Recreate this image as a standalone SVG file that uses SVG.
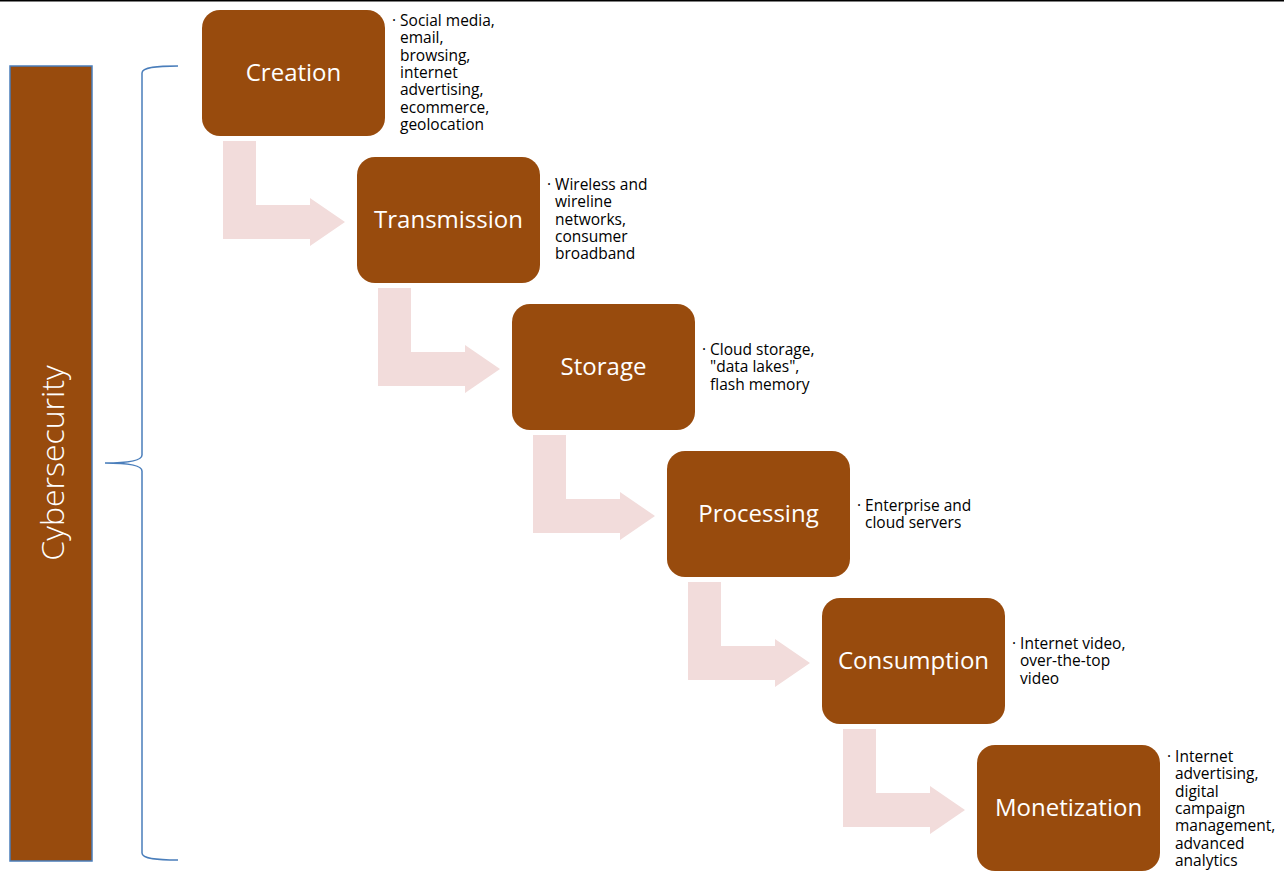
<svg xmlns="http://www.w3.org/2000/svg" width="1284" height="872" viewBox="0 0 1284 872">
<defs>
<style>
.box{fill:#984B0D}
.lbl{font-family:"Open Sans","Liberation Sans",sans-serif;font-size:24px;fill:#fff;text-anchor:middle;dominant-baseline:central}
.note{font-family:"Open Sans","Liberation Sans",sans-serif;font-size:15.5px;fill:#000}
.arr{fill:#F2DCDB}
</style>
<polygon id="bend" class="arr" points="0,0 33,0 33,64 87,64 87,57 122,81 87,105 87,98 0,98"/>
</defs>
<rect x="0" y="0" width="1284" height="872" fill="#fff"/>
<line x1="0" y1="0.5" x2="1284" y2="0.5" stroke="#000" stroke-width="2"/>
<g id="cybersecurity">
<rect x="10" y="66" width="82" height="795" fill="#984B0D" stroke="#4A7EBB" stroke-width="1.5"/>
<text transform="translate(51,463) rotate(-90)" class="lbl" style="font-size:32px;font-weight:300">Cybersecurity</text>
</g>
<g id="brace">
<path d="M178,66 C158,66 142,67 142,73 L142,455 C142,460 130,463 105,463 C130,463 142,466 142,471 L142,853 C142,859 158,860 178,860" fill="none" stroke="#4A7EBB" stroke-width="1.5"/>
</g>
<g id="connectors">
<use href="#bend" x="223" y="141"/>
<use href="#bend" x="378" y="288"/>
<use href="#bend" x="533" y="435"/>
<use href="#bend" x="688" y="582"/>
<use href="#bend" x="843" y="729"/>
</g>
<g id="creation">
<rect class="box" x="202" y="10" width="183" height="126" rx="18"/>
<text class="lbl" x="293.5" y="71">Creation</text>
<text class="note" x="392" y="26"><tspan>· Social media,</tspan><tspan x="400" dy="17.3">email,</tspan><tspan x="400" dy="17.3">browsing,</tspan><tspan x="400" dy="17.3">internet</tspan><tspan x="400" dy="17.3">advertising,</tspan><tspan x="400" dy="17.3">ecommerce,</tspan><tspan x="400" dy="17.3">geolocation</tspan></text>
</g>
<g id="transmission">
<rect class="box" x="357" y="157" width="183" height="126" rx="18"/>
<text class="lbl" x="448.5" y="218">Transmission</text>
<text class="note" x="547" y="190"><tspan>· Wireless and</tspan><tspan x="555" dy="17.3">wireline</tspan><tspan x="555" dy="17.3">networks,</tspan><tspan x="555" dy="17.3">consumer</tspan><tspan x="555" dy="17.3">broadband</tspan></text>
</g>
<g id="storage">
<rect class="box" x="512" y="304" width="183" height="126" rx="18"/>
<text class="lbl" x="603.5" y="365">Storage</text>
<text class="note" x="702" y="355"><tspan>· Cloud storage,</tspan><tspan x="710" dy="17.3">"data lakes",</tspan><tspan x="710" dy="17.3">flash memory</tspan></text>
</g>
<g id="processing">
<rect class="box" x="667" y="451" width="183" height="126" rx="18"/>
<text class="lbl" x="758.5" y="512">Processing</text>
<text class="note" x="857" y="511"><tspan>· Enterprise and</tspan><tspan x="865" dy="17.3">cloud servers</tspan></text>
</g>
<g id="consumption">
<rect class="box" x="822" y="598" width="183" height="126" rx="18"/>
<text class="lbl" x="913.5" y="659">Consumption</text>
<text class="note" x="1012" y="649"><tspan>· Internet video,</tspan><tspan x="1020" dy="17.3">over-the-top</tspan><tspan x="1020" dy="17.3">video</tspan></text>
</g>
<g id="monetization">
<rect class="box" x="977" y="745" width="183" height="126" rx="18"/>
<text class="lbl" x="1068.5" y="806">Monetization</text>
<text class="note" x="1167" y="762"><tspan>· Internet</tspan><tspan x="1175" dy="17.3">advertising,</tspan><tspan x="1175" dy="17.3">digital</tspan><tspan x="1175" dy="17.3">campaign</tspan><tspan x="1175" dy="17.3">management,</tspan><tspan x="1175" dy="17.3">advanced</tspan><tspan x="1175" dy="17.3">analytics</tspan></text>
</g>
</svg>
